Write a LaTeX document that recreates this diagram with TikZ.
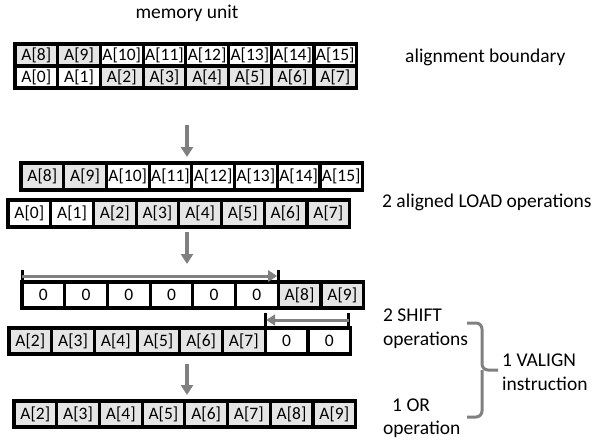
\documentclass[tikz,border=0pt]{standalone}
\usepackage{fontspec}
\setmainfont{Carlito}
\usetikzlibrary{arrows.meta}
\definecolor{cg}{RGB}{229,229,229}
\definecolor{cw}{RGB}{255,255,255}
\definecolor{ar}{RGB}{128,128,128}
\newcommand\cellrow[5]{%
  \foreach \t/\f [count=\i from 0] in {#5}
    \node[cell, fill=\f, minimum height=#4pt] (#1\i) at ({#2+42.7*\i+21.35},#3) {\t};}
\begin{document}
\begin{tikzpicture}[x=1pt,y=-1pt,
  cell/.style={draw, line width=3.2pt, minimum width=42.7pt, inner sep=0pt, outer sep=0pt, font=\fontsize{17.5}{20}\selectfont},
  lab/.style={font=\fontsize{19.5}{24}\selectfont, inner sep=0pt, anchor=west, align=left},
  garrow/.style={draw=ar, line width=3pt, -{Triangle[width=11pt,length=9pt]}},
  varrow/.style={draw=ar, line width=3.6pt, -{Triangle[width=12pt,length=10pt]}},
  tick/.style={line width=3pt},
  brace/.style={draw=ar, line width=3pt, rounded corners=6pt}]
\useasboundingbox (0,0) rectangle (615,439);

\cellrow{m}{15}{55}{22}{A[8]/cg,A[9]/cg,A[10]/cw,A[11]/cw,A[12]/cw,A[13]/cw,A[14]/cw,A[15]/cw}
\cellrow{n}{15}{77}{22}{A[0]/cw,A[1]/cw,A[2]/cg,A[3]/cg,A[4]/cg,A[5]/cg,A[6]/cg,A[7]/cg}
\cellrow{p}{21}{176.5}{27}{A[8]/cg,A[9]/cg,A[10]/cw,A[11]/cw,A[12]/cw,A[13]/cw,A[14]/cw,A[15]/cw}
\cellrow{q}{8}{213.5}{27}{A[0]/cw,A[1]/cw,A[2]/cg,A[3]/cg,A[4]/cg,A[5]/cg,A[6]/cg,A[7]/cg}
\cellrow{r}{22}{295}{26}{0/cw,0/cw,0/cw,0/cw,0/cw,0/cw,A[8]/cg,A[9]/cg}
\cellrow{s}{9}{341}{26}{A[2]/cg,A[3]/cg,A[4]/cg,A[5]/cg,A[6]/cg,A[7]/cg,0/cw,0/cw}
\cellrow{t}{14}{414}{26}{A[2]/cg,A[3]/cg,A[4]/cg,A[5]/cg,A[6]/cg,A[7]/cg,A[8]/cg,A[9]/cg}

% shift right
\draw[tick] (r0.north west) -- ++(0,-12) coordinate (rt0);
\draw[tick] (r5.north east) -- ++(0,-12) coordinate (rt1);
\path (r0.north west) ++(0,-6) coordinate (ra0);
\path (r5.north east) ++(-1,-6) coordinate (ra1);
\draw[garrow] (ra0) -- (ra1);

% shift left
\draw[tick] (s5.north east) -- ++(0,-15) coordinate (st0);
\draw[tick] (s7.north east) -- ++(-2,0) -- ++(0,-15) coordinate (st1);
\path (s7.north east) ++(-2,-8) coordinate (sa0);
\path (s5.north east) ++(1,-8) coordinate (sa1);
\draw[garrow] (sa0) -- (sa1);

% vertical arrows
\coordinate (v1a) at (187,125); \coordinate (v1b) at (187,157);
\coordinate (v2a) at (187,232); \coordinate (v2b) at (187,264);
\coordinate (v3a) at (187,364); \coordinate (v3b) at (187,395);
\draw[varrow] (v1a) -- (v1b);
\draw[varrow] (v2a) -- (v2b);
\draw[varrow] (v3a) -- (v3b);

% brace
\draw[brace] (467,323) -- (482,323) -- (482,370) -- (498,370);
\draw[brace] (467,417) -- (482,417) -- (482,370);

% labels
\node[lab, anchor=center] (mu) at (187,13) {memory unit};
\node[lab] (ab) at (405,57) {alignment boundary};
\node[lab] (al) at (382,202) {2 aligned LOAD operations};
\node[lab] (sh) at (383,329) {2 SHIFT\\operations};
\node[lab] (va) at (502,372) {1 VALIGN\\instruction};
\node[lab] (or1) at (392,405) {1 OR};
\node[lab] (or2) at (383,429) {operation};
\end{tikzpicture}
\end{document}
